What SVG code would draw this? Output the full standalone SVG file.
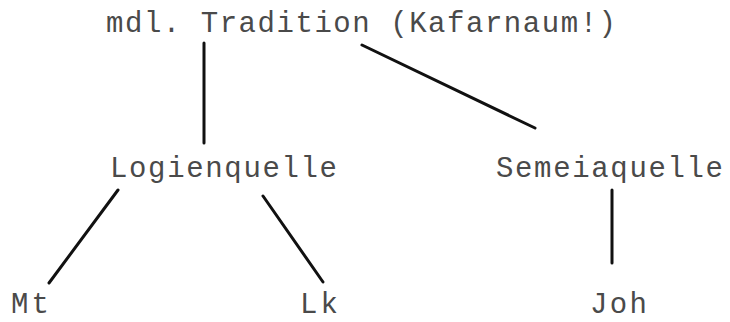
<svg xmlns="http://www.w3.org/2000/svg" width="730" height="322" viewBox="0 0 730 322">
<style>
text{font-family:"Liberation Mono","DejaVu Sans Mono",monospace;font-size:29px;fill:#4a4a4a}
.c line{stroke:#111;stroke-width:3;stroke-linecap:round}
</style>
<rect width="730" height="322" fill="#fff"/>
<g id="tradition"><text x="106" y="32" textLength="510" lengthAdjust="spacing">mdl. Tradition (Kafarnaum!)</text></g>
<g id="logienquelle"><text x="110" y="177" textLength="227" lengthAdjust="spacing">Logienquelle</text></g>
<g id="semeiaquelle"><text x="496" y="177" textLength="227" lengthAdjust="spacing">Semeiaquelle</text></g>
<g id="mt"><text x="11" y="313" textLength="38" lengthAdjust="spacing">Mt</text></g>
<g id="lk"><text x="300" y="313" textLength="38" lengthAdjust="spacing">Lk</text></g>
<g id="joh"><text x="590" y="313" textLength="57" lengthAdjust="spacing">Joh</text></g>
<g class="c" id="connectors">
<line x1="204" y1="43" x2="204" y2="143"/>
<line x1="362" y1="45" x2="535" y2="128"/>
<line x1="118" y1="190" x2="49" y2="283"/>
<line x1="263" y1="196" x2="323" y2="282"/>
<line x1="612" y1="190" x2="612" y2="263"/>
</g>
</svg>
